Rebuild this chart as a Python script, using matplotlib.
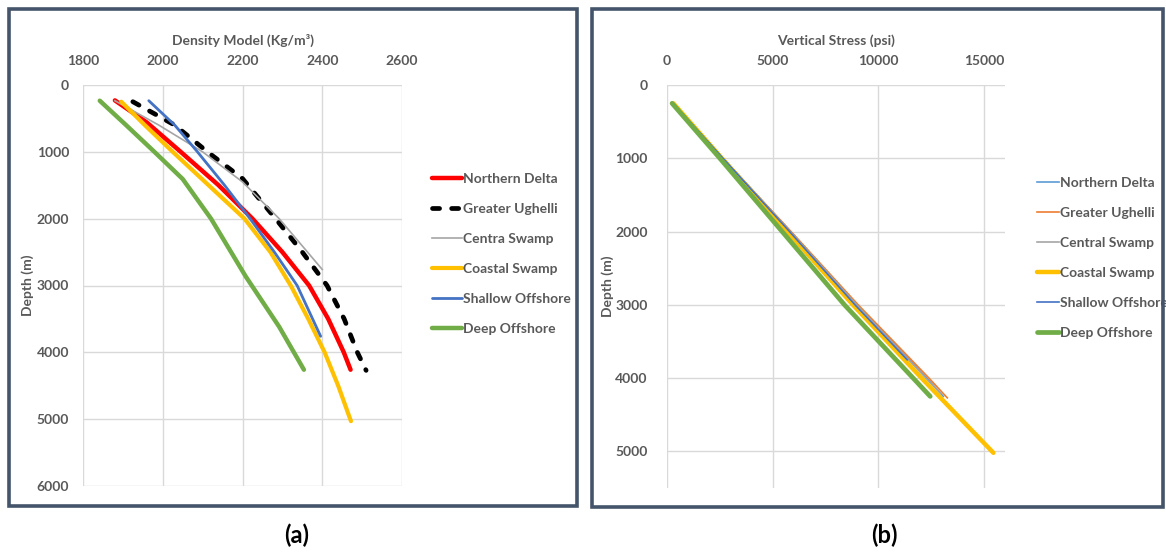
import matplotlib
matplotlib.use('Agg')
import matplotlib.pyplot as plt
from matplotlib.patches import Rectangle

plt.rcParams['font.family'] = ['Lato', 'DejaVu Sans']

# ---------------- Panel (a): density model ----------------
names_a = ["Northern Delta", "Greater Ughelli", "Centra Swamp",
           "Coastal Swamp", "Shallow Offshore", "Deep Offshore"]

nd_density = [1880, 1960, 2045, 2140, 2225, 2300, 2367, 2415, 2454, 2471]
nd_depth   = [230, 560, 1000, 1500, 2000, 2500, 3000, 3500, 4000, 4260]

gu_density = [1925, 2030, 2112, 2200, 2283, 2350, 2412, 2455, 2488, 2510]
gu_depth   = [250, 600, 1000, 1400, 2000, 2500, 3000, 3500, 4000, 4270]

cs_density = [1880, 1990, 2100, 2200, 2292, 2400]
cs_depth   = [235, 600, 1000, 1450, 2000, 2760]

co_density = [1896, 1955, 2025, 2115, 2205, 2270, 2321, 2365, 2406, 2440, 2472]
co_depth   = [250, 600, 1000, 1500, 2000, 2500, 3000, 3500, 4000, 4500, 5030]

so_density = [1965, 2030, 2087, 2155, 2219, 2280, 2337, 2396]
so_depth   = [235, 600, 1000, 1500, 2000, 2500, 3000, 3760]

do_density = [1842, 1908, 1979, 2050, 2121, 2208, 2292, 2354]
do_depth   = [235, 600, 1000, 1407, 2000, 2864, 3618, 4260]

xticks_a = [1800, 2000, 2200, 2400, 2600]
yticks_a = [0, 1000, 2000, 3000, 4000, 5000, 6000]

# ---------------- Panel (b): vertical stress ----------------
names_b = ["Northern Delta", "Greater Ughelli", "Central Swamp",
           "Coastal Swamp", "Shallow Offshore", "Deep Offshore"]

nd_stress   = [300, 2650, 5850, 9000, 12300, 13080]
nd_depth_b  = [250, 1000, 2000, 3000, 4000, 4250]

gu_stress   = [300, 2650, 5870, 9050, 12400, 13270]
gu_depth_b  = [250, 1000, 2000, 3000, 4000, 4270]

cs_stress   = [300, 2640, 5830, 8980, 12250, 12950]
cs_depth_b  = [250, 1000, 2000, 3000, 4000, 4210]

co_stress   = [300, 2600, 5700, 8800, 12050, 15450]
co_depth_b  = [250, 1000, 2000, 3000, 4000, 5020]

so_stress   = [300, 2650, 5800, 8900, 11370]
so_depth_b  = [250, 1000, 2000, 3000, 3750]

do_stress   = [240, 2500, 5450, 8400, 11650, 12460]
do_depth_b  = [250, 1000, 2000, 3000, 4000, 4250]

xticks_b = [0, 5000, 10000, 15000]
yticks_b = [0, 1000, 2000, 3000, 4000, 5000]

W, H = 1166, 554
fig = plt.figure(figsize=(W / 100, H / 100), dpi=100)

TXT = '#595959'
GRID = '#D9D9D9'
FRAME = '#44546A'


def fr(x0, y0, x1, y1):
    return [x0 / W, 1 - y1 / H, (x1 - x0) / W, (y1 - y0) / H]


def style_axes(ax, xlabel, xticks, yticks, xlim, ylim):
    ax.set_xlim(*xlim)
    ax.set_ylim(ylim[1], ylim[0])
    ax.xaxis.tick_top()
    ax.xaxis.set_label_position('top')
    ax.set_xticks(xticks)
    ax.set_yticks(yticks)
    ax.tick_params(axis='both', length=0, labelsize=10, labelcolor=TXT)
    ax.tick_params(axis='x', pad=13)
    ax.tick_params(axis='y', pad=9)
    for lab in ax.get_xticklabels() + ax.get_yticklabels():
        lab.set_fontweight('bold')
    ax.grid(True, color=GRID, lw=1.0)
    ax.set_axisbelow(True)
    for s in ax.spines.values():
        s.set_visible(False)
    ax.set_xlabel(xlabel, fontsize=10, color=TXT, fontweight='bold', labelpad=7)
    ax.set_ylabel('Depth (m)', fontsize=10, color=TXT, fontweight='bold', labelpad=7)


# frames
fig.add_artist(Rectangle((9 / W, 1 - 506 / H), (577 - 9) / W, (506 - 9) / H,
                         transform=fig.transFigure, fill=False, ec=FRAME, lw=2.6))
fig.add_artist(Rectangle((592 / W, 1 - 507 / H), (1163 - 592) / W, (507 - 9) / H,
                         transform=fig.transFigure, fill=False, ec=FRAME, lw=2.6))

# ---- panel (a)
axa = fig.add_axes(fr(83, 85, 402, 486))
la = []
la += axa.plot(nd_density, nd_depth, color='#FF0000', lw=3.2, solid_capstyle='round')
la += axa.plot(gu_density, gu_depth, color='black', lw=3.4, dashes=(1.5, 2.55),
               dash_capstyle='round')
la += axa.plot(cs_density, cs_depth, color='#A5A5A5', lw=1.2)
la += axa.plot(co_density, co_depth, color='#FFC000', lw=3.0, solid_capstyle='round')
la += axa.plot(so_density, so_depth, color='#4472C4', lw=2.0, solid_capstyle='round')
la += axa.plot(do_density, do_depth, color='#70AD47', lw=3.2, solid_capstyle='round')
style_axes(axa, 'Density Model (Kg/m³)', xticks_a, yticks_a, (1800, 2600), (0, 6000))
axa.tick_params(axis='y', pad=10)
axa.yaxis.labelpad = 2

lga = axa.legend(la, names_a, loc='upper left', bbox_to_anchor=(432 / W, 1 - 173 / H),
                 bbox_transform=fig.transFigure, frameon=False, fontsize=10,
                 handlelength=2.15, handletextpad=0.05, labelspacing=1.3,
                 borderaxespad=0, borderpad=0)
for t in lga.get_texts():
    t.set_color(TXT)
    t.set_fontweight('bold')

# ---- panel (b)
axb = fig.add_axes(fr(667, 85, 1005, 488))
lb = []
lb += axb.plot(nd_stress, nd_depth_b, color='#5B9BD5', lw=1.2)
lb += axb.plot(gu_stress, gu_depth_b, color='#ED7D31', lw=1.2)
lb += axb.plot(cs_stress, cs_depth_b, color='#A5A5A5', lw=1.2)
lb += axb.plot(co_stress, co_depth_b, color='#FFC000', lw=3.2, solid_capstyle='round')
lb += axb.plot(so_stress, so_depth_b, color='#4472C4', lw=1.2)
lb += axb.plot(do_stress, do_depth_b, color='#70AD47', lw=3.4, solid_capstyle='round')
style_axes(axb, 'Vertical Stress (psi)', xticks_b, yticks_b, (0, 16000), (0, 5500))
axb.grid(False)
for y in yticks_b:
    axb.axhline(y, color=GRID, lw=1.0, zorder=0)
for x in xticks_b:
    axb.axvline(x, color=GRID, lw=1.0, zorder=0)
axb.tick_params(axis='y', pad=14)
axb.yaxis.labelpad = 1

lgb = axb.legend(lb, names_b, loc='upper left', bbox_to_anchor=(1037 / W, 1 - 177 / H),
                 bbox_transform=fig.transFigure, frameon=False, fontsize=10,
                 handlelength=1.6, handletextpad=0.05, labelspacing=1.29,
                 borderaxespad=0, borderpad=0)
for t in lgb.get_texts():
    t.set_color(TXT)
    t.set_fontweight('bold')

fig.text(297 / W, 1 - 535 / H, '(a)', ha='center', va='center', fontsize=17,
         fontweight='bold', color='black')
fig.text(884 / W, 1 - 535 / H, '(b)', ha='center', va='center', fontsize=17,
         fontweight='bold', color='black')

fig.savefig('out.png', dpi=100)
